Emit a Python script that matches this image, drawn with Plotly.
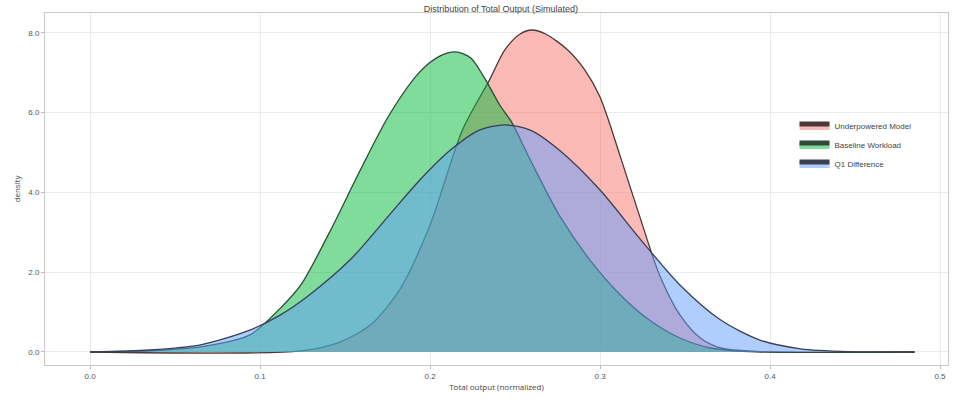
import plotly.graph_objects as go

# Density estimates for the three groups (x = total output, y = density)
red_x = [0.000, 0.124, 0.147, 0.165, 0.182, 0.200, 0.219, 0.235, 0.244, 0.253, 0.260,
         0.268, 0.281, 0.291, 0.300, 0.312, 0.324, 0.335, 0.347, 0.359, 0.371, 0.394, 0.485]
red_y = [0.00, 0.03, 0.25, 0.68, 1.55, 3.18, 5.56, 6.82, 7.57, 7.97, 8.07,
         7.97, 7.57, 7.07, 6.39, 4.89, 3.31, 1.93, 0.93, 0.35, 0.10, 0.01, 0.00]

green_x = [0.000, 0.035, 0.065, 0.094, 0.112, 0.124, 0.141, 0.159, 0.176, 0.194, 0.206, 0.215,
           0.224, 0.232, 0.241, 0.248, 0.259, 0.276, 0.294, 0.312, 0.329, 0.347, 0.365, 0.388, 0.485]
green_y = [0.00, 0.03, 0.13, 0.43, 1.10, 1.68, 3.01, 4.56, 5.94, 7.02, 7.42, 7.52,
           7.37, 6.87, 6.19, 5.76, 4.81, 3.43, 2.31, 1.43, 0.80, 0.35, 0.10, 0.01, 0.00]

blue_x = [0.000, 0.035, 0.065, 0.094, 0.112, 0.129, 0.153, 0.176, 0.194, 0.212, 0.229, 0.244,
          0.259, 0.276, 0.300, 0.324, 0.347, 0.371, 0.394, 0.418, 0.447, 0.485]
blue_y = [0.00, 0.05, 0.18, 0.55, 0.93, 1.43, 2.31, 3.43, 4.31, 5.06, 5.56, 5.69,
          5.56, 5.06, 4.06, 2.81, 1.68, 0.80, 0.30, 0.08, 0.01, 0.00]

series_names = ["Underpowered Model", "Baseline Workload", "Q1 Difference"]
x_ticks = [0.0, 0.1, 0.2, 0.3, 0.4, 0.5]
y_ticks = [0, 2, 4, 6, 8]

fills = ["rgba(248,118,109,0.5)", "rgba(0,186,56,0.5)", "rgba(97,156,255,0.5)"]
edges = ["#4a3a3a", "#2f4a36", "#3a4050"]

fig = go.Figure()
for name, xs, ys, fc, lc in zip(series_names, [red_x, green_x, blue_x],
                                [red_y, green_y, blue_y], fills, edges):
    fig.add_trace(go.Scatter(
        x=xs, y=ys, name=name, mode="lines",
        line=dict(color=lc, width=1.3, shape="spline", smoothing=0.8),
        fill="tozeroy", fillcolor=fc,
    ))

axis_common = dict(
    showgrid=True, gridcolor="#ebebeb", gridwidth=1,
    zeroline=False, showline=True, linecolor="#c8c8c8", mirror=True,
    ticks="outside", ticklen=3, tickcolor="#bbbbbb",
    tickfont=dict(size=8, color="#555555", family="Liberation Sans, Arial, sans-serif"),
)

fig.update_layout(
    width=954, height=399,
    margin=dict(l=45, r=6, t=13, b=34),
    paper_bgcolor="white", plot_bgcolor="white",
    title=dict(text="Distribution of Total Output (Simulated)", x=0.525, xanchor="center",
               y=0.985, yanchor="top",
               font=dict(size=9, color="#444444", family="Liberation Sans, Arial, sans-serif")),
    xaxis=dict(range=[-0.0265, 0.5047], tickvals=x_ticks,
               ticktext=[f"{v:.1f}" for v in x_ticks],
               title=dict(text="Total output (normalized)", standoff=4,
                          font=dict(size=8, color="#444444")), **axis_common),
    yaxis=dict(range=[-0.326, 8.496], tickvals=y_ticks,
               ticktext=[f"{v:.1f}" for v in y_ticks],
               title=dict(text="density", standoff=6,
                          font=dict(size=8, color="#444444")), **axis_common),
    legend=dict(x=0.83, y=0.72, xanchor="left", yanchor="top",
                bgcolor="rgba(255,255,255,0)", borderwidth=0,
                font=dict(size=8, color="#444444", family="Liberation Sans, Arial, sans-serif"),
                itemsizing="constant", tracegroupgap=2),
    showlegend=True,
)

fig.write_html("out.html")
